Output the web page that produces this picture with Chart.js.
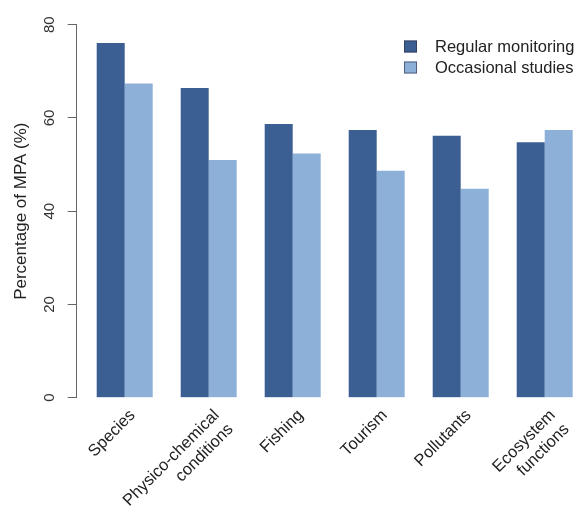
<!DOCTYPE html>
<html>
<head>
<meta charset="utf-8">
<script src="https://cdn.jsdelivr.net/npm/chart.js@4.4.1/dist/chart.umd.min.js"></script>
<style>
  html, body { margin: 0; padding: 0; overflow: hidden; background: #fff; }
  canvas { display: block; }
</style>
</head>
<body>
<canvas id="mpaChart" width="600" height="507" style="width:600px;height:507px"></canvas>
<script>
// categories (multi-line labels as arrays)
const categories = ['Species', ['Physico-chemical', 'conditions'], 'Fishing', 'Tourism', 'Pollutants', ['Ecosystem', 'functions']];
// % of MPAs
const regularMonitoring = [76.1, 66.4, 58.7, 57.4, 56.2, 54.8];
const occasionalStudies = [67.4, 51.0, 52.4, 48.7, 44.8, 57.4];
const yTicks = [0, 20, 40, 60, 80];

const darkBlue = '#3b5f93';
const lightBlue = '#8db0d9';
const fontFamily = '"Liberation Sans", Arial, Helvetica, sans-serif';

// R style detached axis: move the y axis a few px left of the plot region
const shiftAxis = {
    id: 'shiftAxis',
    afterLayout: function(chart)
    {
        chart.scales.y.right = chart.chartArea.left - 6;
    }
};

// legend in the top right corner, like the original
const cornerLegend = {
    id: 'cornerLegend',
    afterDraw: function(chart)
    {
        const ctx = chart.ctx;
        ctx.save();
        ctx.font = '16.5px ' + fontFamily;
        ctx.textBaseline = 'middle';
        chart.data.datasets.forEach(function(ds, i)
        {
            var y = 46.5 + i * 21;
            ctx.fillStyle = ds.backgroundColor;
            ctx.fillRect(404, y - 6, 13, 12);
            ctx.strokeStyle = 'rgba(40,40,60,0.6)';
            ctx.lineWidth = 1;
            ctx.strokeRect(404.5, y - 5.5, 12, 11);
            ctx.fillStyle = '#222';
            ctx.fillText(ds.label, 435, y + 1);
        });
        ctx.restore();
    }
};

const context = document.getElementById('mpaChart');

const data =
{
    labels: categories,
    datasets:
    [{
        label: 'Regular monitoring',
        data: regularMonitoring,
        backgroundColor: darkBlue,
        borderWidth: 0,
        categoryPercentage: 2 / 3,
        barPercentage: 1
    },
    {
        label: 'Occasional studies',
        data: occasionalStudies,
        backgroundColor: lightBlue,
        borderWidth: 0,
        categoryPercentage: 2 / 3,
        barPercentage: 1
    }]
};

const config =
{
    type: 'bar',
    data: data,
    options:
    {
        responsive: false,
        animation: false,
        layout: { autoPadding: false, padding: { top: 24.7, right: 13.3, left: 0, bottom: 0 } },
        plugins:
        {
            legend: { display: false },
            tooltip: { enabled: false }
        },
        scales:
        {
            x:
            {
                grid: { display: false, drawTicks: false },
                border: { display: false },
                ticks:
                {
                    autoSkip: false,
                    minRotation: 45,
                    maxRotation: 45,
                    padding: 8,
                    labelOffset: 8,
                    color: '#222',
                    font: { family: fontFamily, size: 16.5 }
                },
                afterFit: function(scale) { scale.height = 109.3; }
            },
            y:
            {
                min: 0,
                max: 80,
                afterBuildTicks: function(scale)
                {
                    scale.ticks = yTicks.map(function(v) { return { value: v }; });
                },
                grid: { drawOnChartArea: false, drawTicks: true, tickLength: 9, color: '#666' },
                border: { display: true, color: '#666', width: 1 },
                ticks:
                {
                    minRotation: 90,
                    maxRotation: 90,
                    crossAlign: 'center',
                    padding: 9,
                    color: '#333',
                    font: { family: fontFamily, size: 15 }
                },
                title:
                {
                    display: true,
                    text: 'Percentage of MPA (%)',
                    color: '#222',
                    padding: { top: 11, bottom: 0 },
                    font: { family: fontFamily, size: 17 }
                },
                afterFit: function(scale) { scale.width = 82.7; }
            }
        }
    },
    plugins: [shiftAxis, cornerLegend]
};

var mpaChart = new Chart(context, config);
</script>
</body>
</html>
